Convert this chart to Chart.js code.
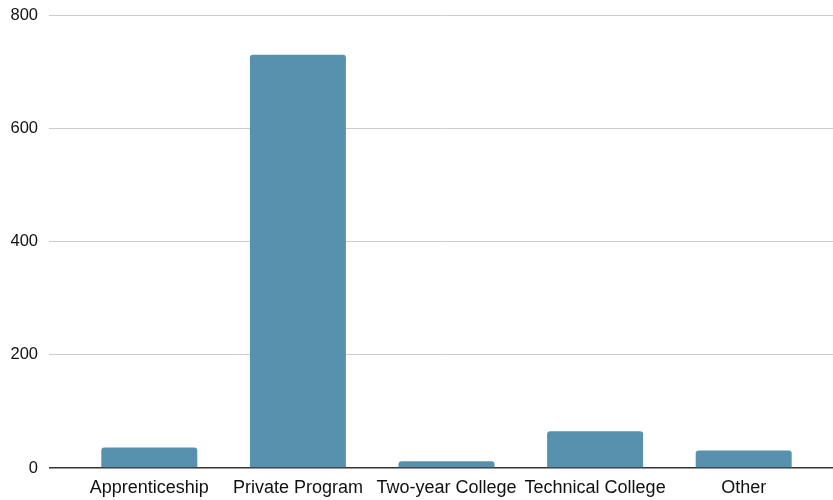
<!DOCTYPE html>
<html>
<head>
<meta charset="utf-8">
<script src="https://cdn.jsdelivr.net/npm/chart.js@4.4.1/dist/chart.umd.min.js"></script>
<style>
  html, body { margin: 0; padding: 0; background: #fff; }
  #wrap { width: 833px; height: 500px; }
</style>
</head>
<body>
<div id="wrap"><canvas id="grafico" width="833" height="500"></canvas></div>
<script>
const categorias = ["Apprenticeship", "Private Program", "Two-year College", "Technical College", "Other"];
const valores = [36, 730, 12, 65, 31];
const ticksY = [0, 200, 400, 600, 800];

const colorBarra = "#5891ad";
const fuente = "'Liberation Sans', Arial, sans-serif";

const ctx = document.getElementById("grafico").getContext("2d");
const grafico = new Chart(ctx, {
  type: "bar",
  data: {
    labels: categorias,
    datasets: [{
      data: valores,
      backgroundColor: colorBarra,
      borderRadius: 3,
      barPercentage: 0.646,
      categoryPercentage: 1
    }]
  },
  options: {
    responsive: false,
    animation: false,
    layout: { padding: { top: 15, left: 0, right: 0, bottom: 0 } },
    plugins: { legend: { display: false }, tooltip: { enabled: false } },
    scales: {
      x: {
        grid: { display: false },
        border: { display: false },
        ticks: { color: "#111", font: { family: fuente, size: 18 }, padding: 1, maxRotation: 0, autoSkip: false },
        afterFit: s => { s.height = 32; }
      },
      y: {
        min: 0, max: 800,
        afterBuildTicks: s => { s.ticks = ticksY.map(v => ({ value: v })); },
        grid: {
          color: c => c.tick && c.tick.value === 0 ? "#333" : "#cccccc",
          lineWidth: c => c.tick && c.tick.value === 0 ? 1.5 : 1,
          tickLength: 26
        },
        border: { display: false },
        ticks: { color: "#111", font: { family: fuente, size: 16.5 }, padding: 11 },
        afterFit: s => { s.width = 75; s.paddingTop = 0; s.paddingBottom = 0; }
      },
      y2: {
        position: "right",
        min: 0, max: 800,
        afterBuildTicks: s => { s.ticks = ticksY.map(v => ({ value: v })); },
        grid: {
          drawOnChartArea: false,
          color: c => c.tick && c.tick.value === 0 ? "#333" : "#cccccc",
          lineWidth: c => c.tick && c.tick.value === 0 ? 1.5 : 1,
          tickLength: 15
        },
        border: { display: false },
        ticks: { display: false },
        afterFit: s => { s.width = 15; s.paddingTop = 0; s.paddingBottom = 0; }
      }
    }
  }
});
</script>
</body>
</html>
